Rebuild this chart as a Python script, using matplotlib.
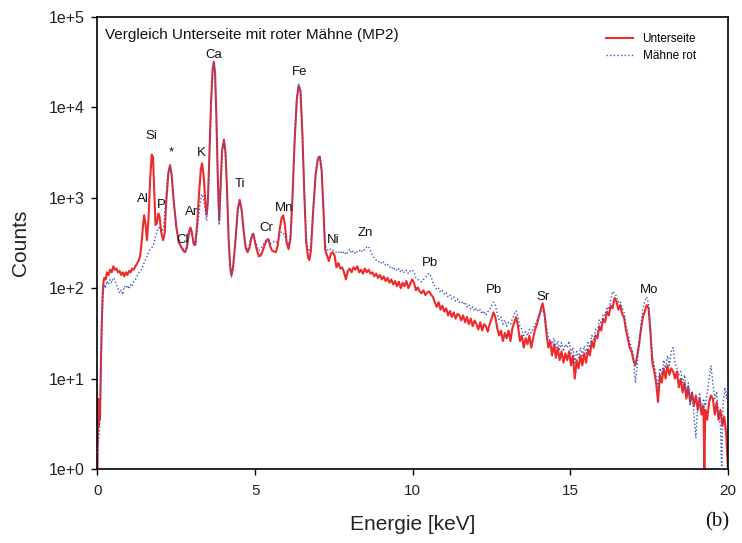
import matplotlib
matplotlib.use("Agg")
import matplotlib.pyplot as plt
from matplotlib.ticker import FixedLocator, NullLocator

plt.rcParams['font.family'] = ['Liberation Sans', 'DejaVu Sans']

# ---- data: Unterseite (red, solid) ----
unter_E = [0.00, 0.02, 0.04, 0.06, 0.08, 0.10, 0.13, 0.16, 0.19, 0.22, 0.26, 0.30, 0.35, 0.40, 0.45,
           0.50, 0.55, 0.60, 0.65, 0.70, 0.75, 0.80, 0.85, 0.90, 0.95, 1.00, 1.05, 1.10, 1.15, 1.20,
           1.25, 1.30, 1.35, 1.40, 1.45, 1.48, 1.52, 1.57, 1.62, 1.67, 1.72, 1.76, 1.80, 1.84, 1.88,
           1.93, 1.97, 2.02, 2.08, 2.13, 2.18, 2.25, 2.30, 2.35, 2.42, 2.50, 2.58, 2.65, 2.72, 2.78,
           2.84, 2.90, 2.95, 2.99, 3.05, 3.10, 3.16, 3.22, 3.28, 3.32, 3.37, 3.42, 3.46, 3.50, 3.55,
           3.60, 3.65, 3.69, 3.73, 3.77, 3.82, 3.86, 3.90, 3.95, 4.01, 4.06, 4.11, 4.16, 4.21, 4.25,
           4.30, 4.38, 4.45, 4.51, 4.57, 4.64, 4.70, 4.76, 4.82, 4.88, 4.94, 5.00, 5.06, 5.12, 5.18,
           5.24, 5.30, 5.36, 5.42, 5.48, 5.54, 5.60, 5.66, 5.72, 5.78, 5.84, 5.89, 5.94, 6.00, 6.06,
           6.12, 6.18, 6.25, 6.32, 6.38, 6.44, 6.50, 6.56, 6.62, 6.68, 6.72, 6.77, 6.84, 6.92, 6.99,
           7.05, 7.11, 7.17, 7.22, 7.28, 7.34, 7.40, 7.46, 7.52, 7.58, 7.64, 7.70, 7.76, 7.82, 7.88,
           7.94, 8.00, 8.06, 8.12, 8.18, 8.24, 8.30, 8.36, 8.42, 8.48, 8.54, 8.60, 8.66, 8.72, 8.78,
           8.84, 8.90, 8.96, 9.02, 9.08, 9.14, 9.20, 9.26, 9.32, 9.38, 9.44, 9.50, 9.56, 9.62, 9.68,
           9.74, 9.80, 9.86, 9.92, 9.98, 10.04, 10.10, 10.16, 10.22, 10.28, 10.34, 10.40, 10.46, 10.52, 10.58,
           10.64, 10.70, 10.76, 10.82, 10.88, 10.94, 11.00, 11.06, 11.12, 11.18, 11.24, 11.30, 11.36, 11.42, 11.48,
           11.54, 11.60, 11.66, 11.72, 11.78, 11.84, 11.90, 11.96, 12.02, 12.08, 12.14, 12.20, 12.26, 12.32, 12.38,
           12.44, 12.50, 12.56, 12.62, 12.68, 12.74, 12.80, 12.86, 12.92, 12.98, 13.04, 13.10, 13.16, 13.22, 13.28,
           13.34, 13.40, 13.46, 13.52, 13.58, 13.64, 13.70, 13.76, 13.82, 13.88, 13.94, 14.00, 14.06, 14.12, 14.18,
           14.24, 14.30, 14.36, 14.42, 14.48, 14.54, 14.60, 14.66, 14.72, 14.78, 14.84, 14.90, 14.96, 15.02, 15.08,
           15.14, 15.20, 15.26, 15.32, 15.38, 15.44, 15.50, 15.56, 15.62, 15.68, 15.74, 15.80, 15.86, 15.92, 15.98,
           16.04, 16.10, 16.16, 16.22, 16.28, 16.34, 16.40, 16.46, 16.52, 16.58, 16.64, 16.70, 16.76, 16.82, 16.88,
           16.94, 17.00, 17.06, 17.12, 17.18, 17.24, 17.30, 17.36, 17.42, 17.48, 17.54, 17.60, 17.66, 17.72, 17.78,
           17.84, 17.90, 17.96, 18.02, 18.08, 18.14, 18.20, 18.26, 18.32, 18.38, 18.44, 18.50, 18.56, 18.62, 18.68,
           18.74, 18.80, 18.86, 18.92, 18.98, 19.04, 19.10, 19.16, 19.22, 19.25, 19.28, 19.34, 19.40, 19.46, 19.52,
           19.58, 19.64, 19.70, 19.76, 19.82, 19.88, 19.94, 20.00]
unter_C = [1.0, 6.0, 3.0, 5.0, 3.5, 10, 35, 80, 118, 130, 125, 150, 140, 160, 150,
           175, 160, 165, 150, 155, 140, 150, 135, 150, 140, 155, 150, 165, 160, 175,
           185, 200, 225, 320, 520, 640, 520, 340, 600, 1600, 3000, 2800, 1200, 500, 520,
           670, 620, 420, 340, 400, 900, 1900, 2300, 1800, 900, 480, 320, 290, 260, 250,
           290, 420, 470, 420, 310, 300, 500, 1100, 2100, 2400, 1700, 900, 650, 900, 3000,
           11000, 26000, 32000, 24000, 8000, 1500, 560, 1200, 3300, 4400, 3200, 1200, 350, 170, 140,
           170, 350, 750, 950, 750, 420, 280, 250, 280, 360, 400, 320, 260, 225, 230,
           260, 300, 340, 350, 290, 260, 255, 250, 300, 450, 600, 640, 520, 320, 270,
           350, 900, 4000, 12000, 17500, 15000, 5000, 1100, 320, 220, 205, 260, 700, 1800, 2700,
           2850, 2000, 700, 270, 230, 200, 240, 250, 230, 170, 190, 165, 170, 150, 125,
           155, 165, 150, 170, 160, 175, 150, 160, 145, 165, 150, 160, 145, 150, 135,
           145, 130, 140, 125, 135, 120, 130, 115, 125, 110, 120, 105, 118, 100, 115,
           105, 120, 100, 112, 125, 115, 95, 102, 92, 88, 95, 84, 90, 92, 85,
           80, 70, 62, 70, 58, 64, 55, 60, 50, 56, 48, 54, 46, 52, 50,
           44, 50, 42, 48, 40, 46, 38, 44, 40, 35, 42, 34, 40, 38, 33,
           40, 46, 54, 48, 36, 30, 34, 26, 32, 28, 34, 26, 36, 42, 48,
           38, 26, 30, 22, 28, 24, 30, 22, 28, 35, 40, 48, 58, 68, 52,
           32, 22, 26, 18, 24, 17, 22, 16, 20, 15, 19, 16, 20, 14, 18,
           10, 16, 13, 18, 14, 19, 15, 21, 18, 26, 22, 30, 28, 38, 34,
           46, 42, 55, 50, 64, 60, 78, 72, 58, 65, 52, 48, 35, 28, 22,
           20, 16, 14, 18, 24, 35, 48, 55, 65, 60, 32, 15, 12, 9, 5.5,
           11, 9, 13, 10, 14, 11, 13, 12, 10, 12, 8, 10, 7, 9, 6,
           8, 5.5, 7, 5, 6.5, 4.5, 6, 4, 5, 1.0, 4.5, 3.5, 5.5, 6.5, 6,
           4, 5.5, 3.5, 4.5, 3, 3.8, 2.5, 1.0]

# ---- data: Mähne rot (blue, dotted) ----
maehne_E = [0.00, 0.03, 0.06, 0.10, 0.14, 0.18, 0.22, 0.26, 0.30, 0.35, 0.40, 0.45, 0.50, 0.55, 0.60,
            0.65, 0.70, 0.75, 0.80, 0.85, 0.90, 0.95, 1.00, 1.05, 1.10, 1.15, 1.20, 1.25, 1.30, 1.35,
            1.40, 1.45, 1.50, 1.55, 1.60, 1.66, 1.72, 1.78, 1.82, 1.88, 1.94, 2.00, 2.05, 2.10, 2.16,
            2.23, 2.30, 2.36, 2.42, 2.50, 2.58, 2.65, 2.72, 2.78, 2.84, 2.90, 2.95, 3.00, 3.06, 3.12,
            3.18, 3.25, 3.31, 3.36, 3.42, 3.46, 3.50, 3.55, 3.60, 3.65, 3.69, 3.73, 3.77, 3.82, 3.86,
            3.90, 3.95, 4.01, 4.06, 4.11, 4.16, 4.21, 4.25, 4.30, 4.38, 4.45, 4.51, 4.57, 4.64, 4.70,
            4.76, 4.82, 4.88, 4.94, 5.00, 5.06, 5.12, 5.18, 5.24, 5.30, 5.36, 5.42, 5.48, 5.54, 5.60,
            5.66, 5.72, 5.78, 5.84, 5.89, 5.94, 6.00, 6.06, 6.12, 6.18, 6.25, 6.32, 6.38, 6.44, 6.50,
            6.56, 6.62, 6.68, 6.72, 6.77, 6.84, 6.92, 6.99, 7.05, 7.11, 7.17, 7.22, 7.28, 7.34, 7.40,
            7.46, 7.52, 7.58, 7.64, 7.70, 7.76, 7.82, 7.88, 7.94, 8.00, 8.06, 8.12, 8.18, 8.24, 8.30,
            8.36, 8.42, 8.48, 8.54, 8.60, 8.66, 8.72, 8.78, 8.84, 8.90, 8.96, 9.02, 9.08, 9.14, 9.20,
            9.26, 9.32, 9.38, 9.44, 9.50, 9.56, 9.62, 9.68, 9.74, 9.80, 9.86, 9.92, 9.98, 10.04, 10.10,
            10.16, 10.22, 10.28, 10.34, 10.40, 10.46, 10.52, 10.58, 10.64, 10.70, 10.76, 10.82, 10.88, 10.94, 11.00,
            11.06, 11.12, 11.18, 11.24, 11.30, 11.36, 11.42, 11.48, 11.54, 11.60, 11.66, 11.72, 11.78, 11.84, 11.90,
            11.96, 12.02, 12.08, 12.14, 12.20, 12.26, 12.32, 12.38, 12.44, 12.50, 12.56, 12.62, 12.68, 12.74, 12.80,
            12.86, 12.92, 12.98, 13.04, 13.10, 13.16, 13.22, 13.28, 13.34, 13.40, 13.46, 13.52, 13.58, 13.64, 13.70,
            13.76, 13.82, 13.88, 13.94, 14.00, 14.06, 14.12, 14.18, 14.24, 14.30, 14.36, 14.42, 14.48, 14.54, 14.60,
            14.66, 14.72, 14.78, 14.84, 14.90, 14.96, 15.02, 15.08, 15.14, 15.20, 15.26, 15.32, 15.38, 15.44, 15.50,
            15.56, 15.62, 15.68, 15.74, 15.80, 15.86, 15.92, 15.98, 16.04, 16.10, 16.16, 16.22, 16.28, 16.34, 16.40,
            16.46, 16.52, 16.58, 16.64, 16.70, 16.76, 16.82, 16.88, 16.94, 17.00, 17.06, 17.12, 17.18, 17.24, 17.30,
            17.36, 17.42, 17.48, 17.54, 17.60, 17.66, 17.72, 17.78, 17.84, 17.90, 17.96, 18.02, 18.08, 18.14, 18.20,
            18.26, 18.32, 18.38, 18.44, 18.50, 18.56, 18.62, 18.68, 18.74, 18.80, 18.86, 18.92, 18.98, 19.04, 19.10,
            19.16, 19.22, 19.28, 19.34, 19.40, 19.46, 19.52, 19.58, 19.64, 19.70, 19.76, 19.80, 19.84, 19.90, 19.96,
            20.00]
maehne_C = [1.5, 2.0, 2.5, 8, 40, 90, 110, 100, 120, 110, 125, 115, 130, 125, 110,
            100, 88, 95, 85, 105, 100, 108, 98, 110, 104, 118, 125, 135, 145, 155,
            160, 180, 200, 215, 240, 265, 280, 300, 355, 420, 470, 450, 420, 480, 900,
            1800, 2200, 1700, 900, 450, 320, 280, 270, 255, 270, 380, 430, 390, 300, 320,
            500, 850, 1100, 1000, 700, 560, 800, 2800, 10500, 25000, 30000, 23000, 7500, 1300, 500,
            1100, 3000, 4200, 3000, 1100, 330, 160, 130, 165, 340, 700, 900, 720, 400, 280,
            265, 300, 380, 410, 340, 290, 260, 275, 300, 320, 340, 330, 310, 320, 330,
            320, 330, 380, 420, 410, 380, 330, 300, 370, 950, 4200, 12500, 18000, 15500, 5200,
            1200, 350, 265, 255, 300, 750, 1900, 2800, 2950, 2100, 750, 300, 270, 260, 275,
            265, 255, 250, 245, 260, 240, 255, 235, 250, 270, 245, 260, 240, 255, 265,
            250, 270, 265, 285, 290, 260, 230, 215, 205, 195, 200, 185, 195, 180, 185,
            170, 175, 160, 168, 155, 165, 150, 160, 148, 158, 145, 155, 160, 150, 130,
            125, 120, 118, 125, 130, 140, 146, 135, 115, 105, 96, 100, 90, 94, 86,
            90, 80, 84, 76, 80, 72, 76, 70, 72, 66, 70, 62, 66, 58, 62,
            56, 60, 55, 58, 52, 56, 50, 55, 58, 64, 70, 66, 52, 45, 48,
            40, 44, 38, 42, 40, 46, 52, 56, 48, 38, 35, 30, 33, 30, 35,
            32, 36, 40, 44, 50, 55, 58, 50, 38, 28, 26, 24, 28, 22, 26,
            21, 25, 20, 24, 22, 26, 19, 22, 15, 20, 17, 22, 18, 23, 19,
            25, 22, 30, 27, 35, 33, 45, 40, 52, 50, 62, 58, 75, 92, 88,
            82, 70, 72, 60, 55, 40, 32, 26, 22, 18, 9, 14, 25, 40, 58,
            72, 80, 68, 38, 18, 14, 11, 8, 13, 11, 16, 13, 18, 14, 20,
            22, 15, 13, 11, 12, 9, 11, 7, 9, 5, 7, 4, 2.2, 5, 7,
            4.5, 6, 5, 7, 10, 14, 9, 6, 7, 4, 3, 1.0, 5, 8, 6,
            9]

# ---- peak labels ----
peak_names = ['Al', 'Si', '*', 'P', 'Cl', 'Ar', 'K', 'Ca', 'Ti', 'Cr', 'Mn', 'Fe',
              'Ni', 'Zn', 'Pb', 'Pb', 'Sr', 'Mo']
peak_E = [1.44, 1.70, 2.33, 2.04, 2.71, 3.00, 3.28, 3.69, 4.52, 5.36, 5.91, 6.40,
          7.47, 8.51, 10.54, 12.57, 14.13, 17.51]
peak_C = [977, 4800, 3160, 830, 345, 700, 3160, 38000, 1420, 465, 780, 24500,
          340, 410, 190, 95, 80, 95]

y_ticks = [1, 10, 100, 1000, 10000, 100000]
y_labels = ['1e+0', '1e+1', '1e+2', '1e+3', '1e+4', '1e+5']
x_ticks = [0, 5, 10, 15, 20]

fig = plt.figure(figsize=(7.42, 5.43), dpi=100)
ax = fig.add_axes([97.5 / 742, 1 - 469 / 543, (728 - 97.5) / 742, (469 - 17) / 543])

ax.plot(unter_E, unter_C, color='#ee2a2a', lw=1.5, label='Unterseite', zorder=2)
ax.plot(maehne_E, maehne_C, color='#3a55c0', lw=1.0, linestyle=(0, (1, 1.6)),
        label='Mähne rot', zorder=3)

ax.set_yscale('log')
ax.set_xlim(0, 20)
ax.set_ylim(1, 1e5)
ax.yaxis.set_major_locator(FixedLocator(y_ticks))
ax.yaxis.set_minor_locator(NullLocator())
ax.set_yticklabels(y_labels)
ax.set_xticks(x_ticks)
ax.set_xticklabels([str(v) for v in x_ticks])
ax.tick_params(axis='both', direction='out', length=4, width=1,
               top=False, right=False, colors='black', labelcolor='#222222')
ax.tick_params(axis='y', pad=5, labelsize=11.5)
ax.tick_params(axis='x', pad=7, labelsize=11)
for s in ax.spines.values():
    s.set_linewidth(1.2)

ax.set_xlabel('Energie [keV]', fontsize=15, labelpad=12, color='#222222')
ax.set_ylabel('Counts', fontsize=15, labelpad=14, color='#222222')

for name, e, c in zip(peak_names, peak_E, peak_C):
    ax.text(e, c, name, ha='center', va='center', fontsize=9.5, color='#111111', zorder=4)

ax.text(0.012, 0.96, 'Vergleich Unterseite mit roter Mähne (MP2)', transform=ax.transAxes,
        ha='left', va='center', fontsize=11, color='#111111')

leg = ax.legend(loc='upper left', bbox_to_anchor=(606 / 742, 1 - 33 / 543),
                bbox_transform=fig.transFigure, frameon=False, fontsize=8.5,
                handlelength=2.3, handletextpad=0.8, labelspacing=0.45,
                borderpad=0, borderaxespad=0)

fig.text(717 / 742, 1 - 522 / 543, '(b)', ha='center', va='center', fontsize=15,
         family=['Liberation Serif', 'DejaVu Serif'], color='#111111')

fig.savefig('out.png', dpi=100)
